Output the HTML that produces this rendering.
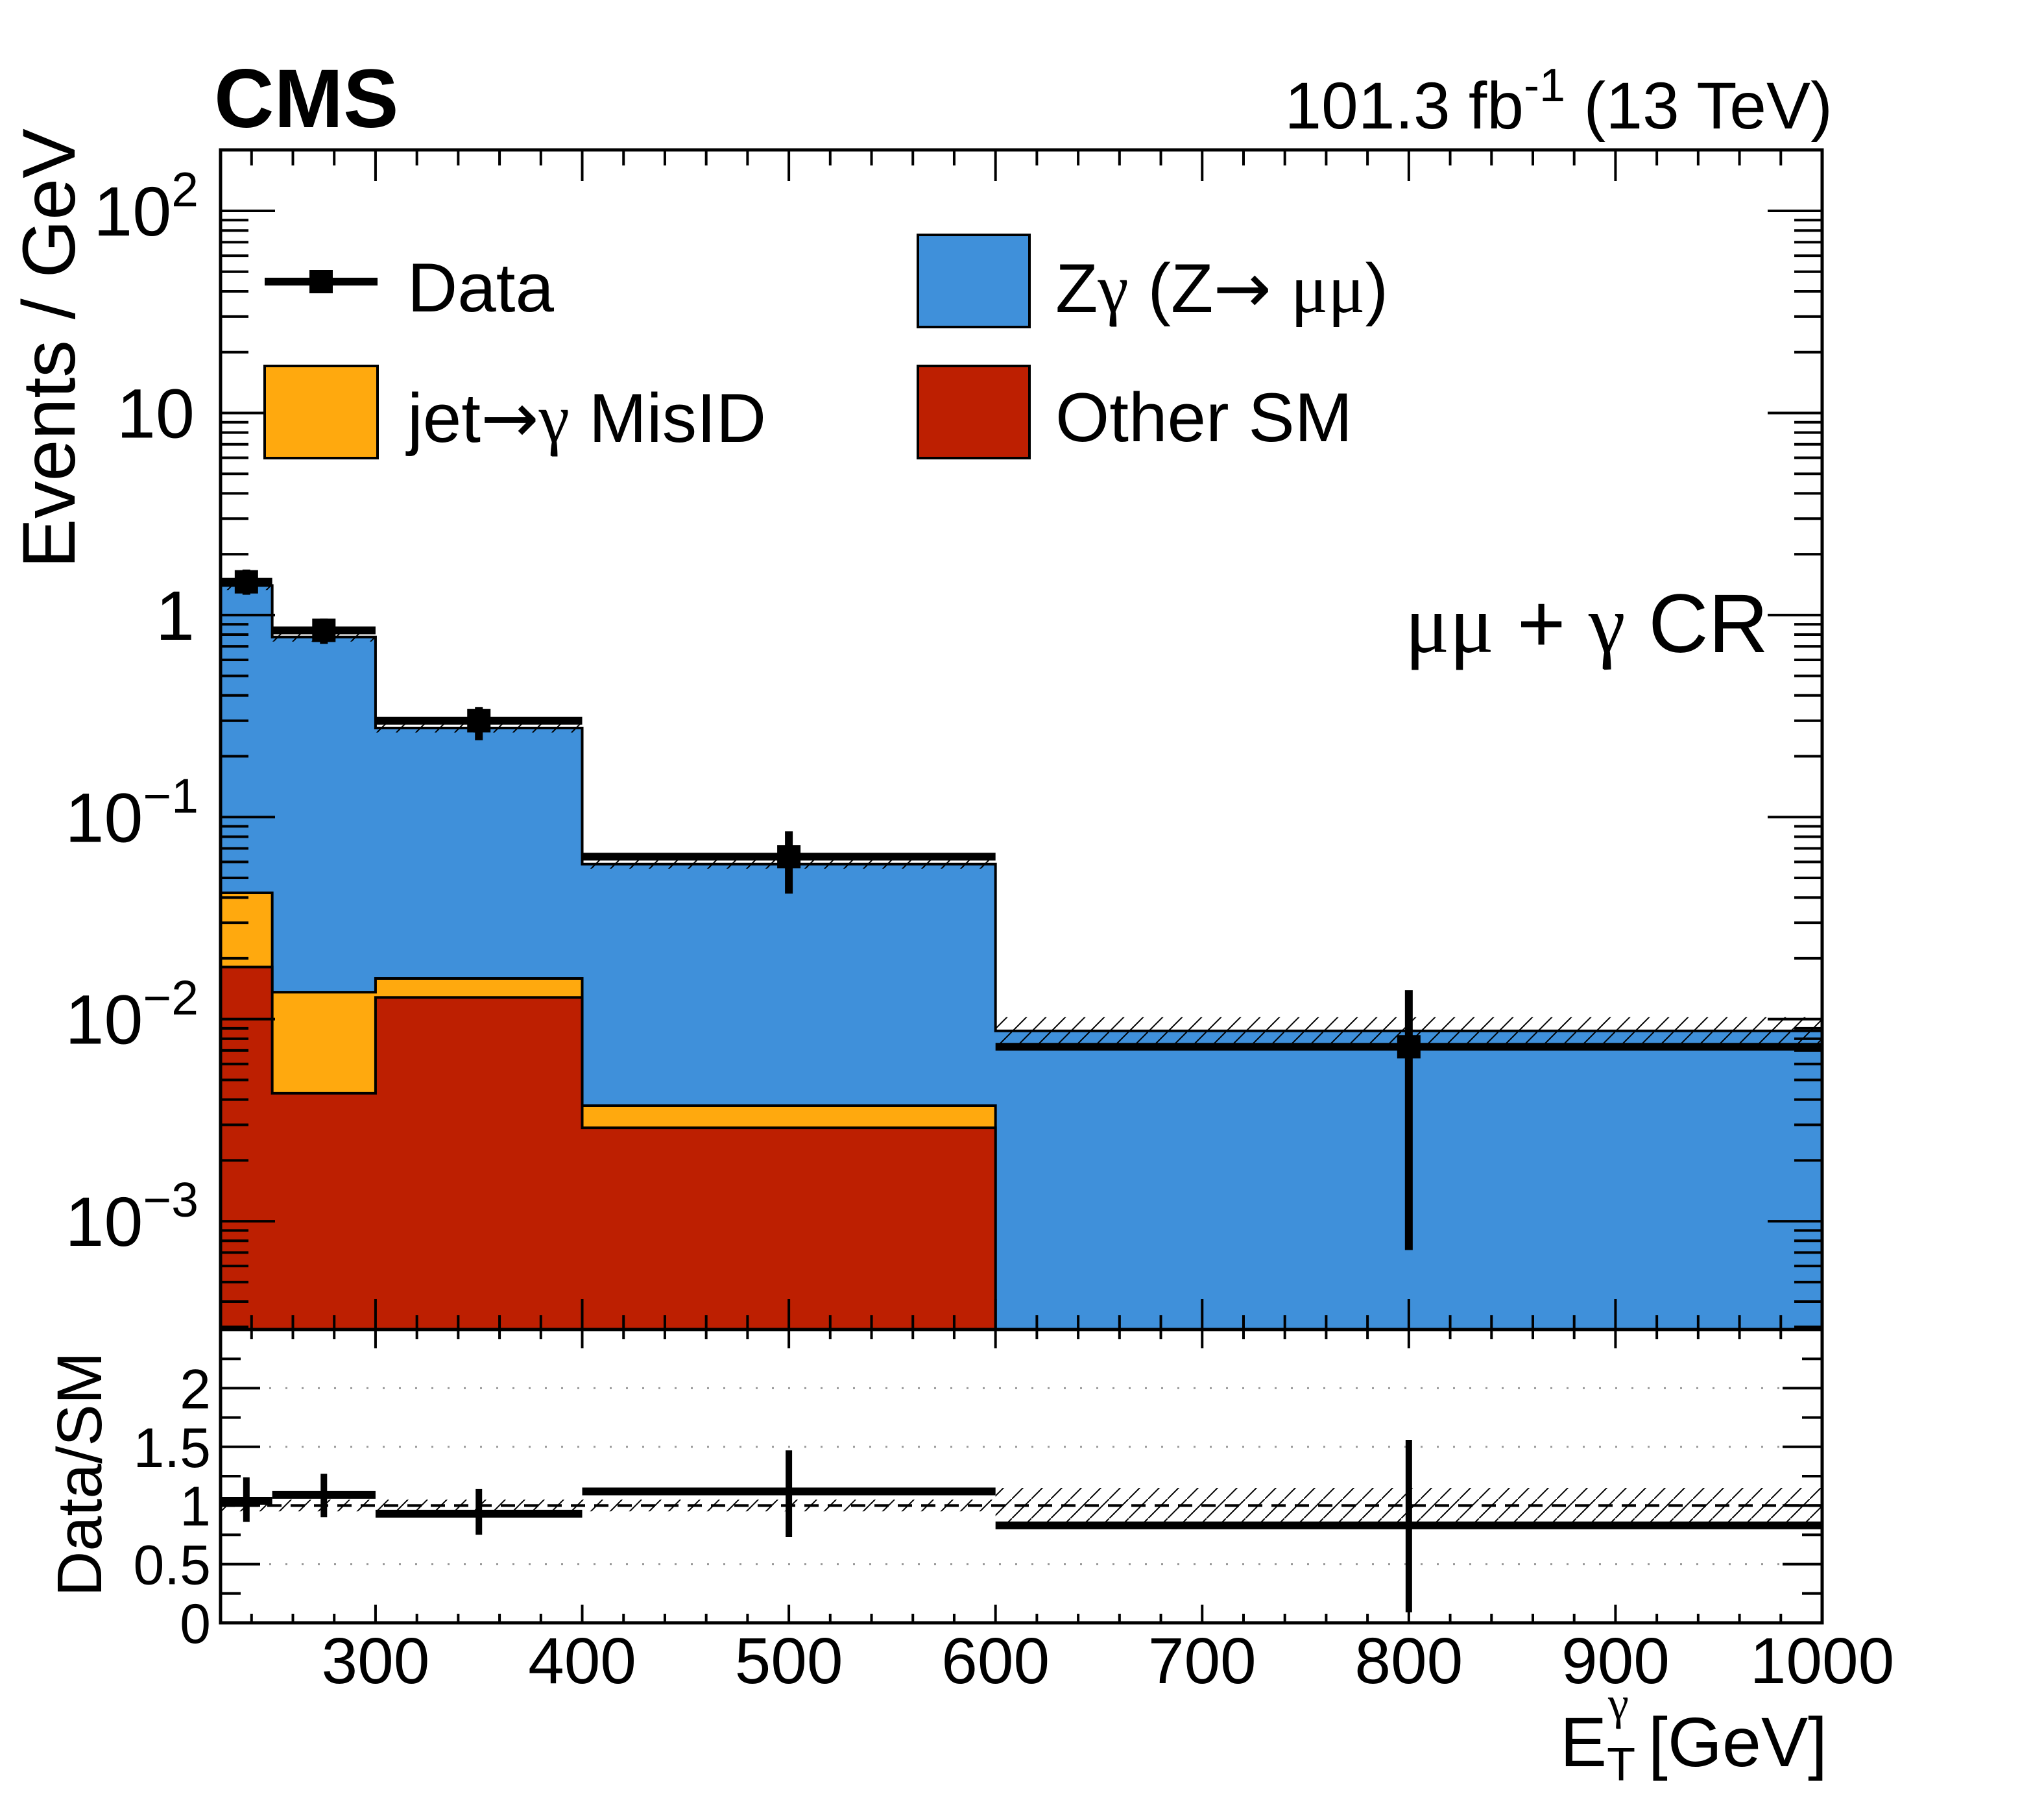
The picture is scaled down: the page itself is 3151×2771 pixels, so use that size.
<!DOCTYPE html>
<html><head><meta charset="utf-8">
<style>
html,body{margin:0;padding:0;background:#fff;}
svg{display:block;font-family:"Liberation Sans",sans-serif;}
.g{font-family:"Liberation Serif","DejaVu Serif",serif;}
.a{font-family:"DejaVu Sans",sans-serif;}
</style></head>
<body>
<svg id="chart" width="3151" height="2771" viewBox="0 0 3151 2771" xmlns="http://www.w3.org/2000/svg">
<defs>
<pattern id="hatch" patternUnits="userSpaceOnUse" width="30" height="30">
<line x1="0" y1="30" x2="30" y2="0" stroke="#000" stroke-width="2"/>
</pattern>
</defs>
<g id="main"></g>
<g id="ratio"></g>
<g id="axes"></g>
<text x="330" y="196" font-size="128" font-weight="bold">CMS</text>
<text x="2825" y="198" font-size="102" text-anchor="end">101.3 fb<tspan dy="-42" font-size="72">-1</tspan><tspan dy="42"> (13 TeV)</tspan></text>
<text x="2726" y="1005" font-size="128" text-anchor="end"><tspan class="g">μμ</tspan> + <tspan class="g">γ</tspan> CR</text>
<text transform="translate(115,537) rotate(-90)" font-size="115" text-anchor="middle">Events / GeV</text>
<text transform="translate(156,2272) rotate(-90)" font-size="97" text-anchor="middle">Data/SM</text>
<text x="2817" y="2722" font-size="108" text-anchor="end">E<tspan dy="22" font-size="72">T</tspan><tspan dx="-42" dy="-95" font-size="72" class="g">γ</tspan><tspan dy="73"> [GeV]</tspan></text>
<g>
<g>
<line x1="408" y1="434" x2="582" y2="434" stroke="#000" stroke-width="12"/>
<rect x="477" y="416" width="36" height="36" fill="#000"/>
<text x="628" y="480" font-size="107">Data</text>
</g>
<g>
<rect x="408" y="564" width="174" height="142" fill="#ffa90e" stroke="#000" stroke-width="4"/>
<text x="628" y="681" font-size="107">jet<tspan class="a">→</tspan><tspan class="g">γ</tspan> MisID</text>
</g>
<g>
<rect x="1415" y="362" width="172" height="142" fill="#3f90da" stroke="#000" stroke-width="4"/>
<text x="1627" y="481" font-size="107">Z<tspan class="g">γ</tspan> (Z<tspan class="a">→</tspan> <tspan class="g">μμ</tspan>)</text>
</g>
<g>
<rect x="1415" y="564" width="172" height="142" fill="#bd1f01" stroke="#000" stroke-width="4"/>
<text x="1627" y="680" font-size="107">Other SM</text>
</g>
</g>
</svg>
<script>
const binEdges = [225, 250, 300, 400, 600, 1000];
const zgTotal = [1.40, 0.778, 0.276, 0.0585, 0.00875];
const misidTop = [0.0422, 0.0136, 0.0159, 0.00373, 0];
const otherSM = [0.0181, 0.0043, 0.0128, 0.0029, 0];
const bkgUnc = [0.05, 0.05, 0.05, 0.05, 0.17];
const dataVal = [1.46, 0.84, 0.30, 0.0637, 0.0073];
const dataUp = [1.68, 0.96, 0.35, 0.085, 0.0139];
const dataDn = [1.26, 0.72, 0.24, 0.0418, 0.00072];
const ratioVal = [1.04, 1.09, 0.93, 1.12, 0.83];
const ratioUp = [1.24, 1.27, 1.14, 1.47, 1.56];
const ratioDn = [0.86, 0.90, 0.75, 0.73, 0.09];
const ratioUnc = [0.05, 0.05, 0.05, 0.05, 0.15];
const xTicks = [300, 400, 500, 600, 700, 800, 900, 1000];
const ratioTicks = [0, 0.5, 1, 1.5, 2];
const ratioTickLabels = ["0", "0.5", "1", "1.5", "2"];

const NS = "http://www.w3.org/2000/svg";
const L = 340, R = 2809, T = 231, MB = 2049, RB = 2501;
const xMin = 225, xMax = 1000, yLogMin = -3.536, yLogMax = 2.302;
function X(v){ return L + (v - xMin) / (xMax - xMin) * (R - L); }
function Y(v){ const lv = v > 0 ? Math.log10(v) : yLogMin - 1; const c = Math.max(yLogMin, Math.min(yLogMax, lv)); return MB - (c - yLogMin) / (yLogMax - yLogMin) * (MB - T); }
function YR(v){ return RB - v / 2.5 * (RB - MB); }
function mk(tag, attrs, parent){ const e = document.createElementNS(NS, tag); for (const k in attrs) e.setAttribute(k, attrs[k]); parent.appendChild(e); return e; }

const main = document.getElementById("main");
const ratio = document.getElementById("ratio");
const axes = document.getElementById("axes");

function stepPath(vals){
  let d = "M" + X(binEdges[0]) + "," + MB;
  for (let i = 0; i < vals.length; i++){
    d += " L" + X(binEdges[i]) + "," + Y(vals[i]) + " L" + X(binEdges[i+1]) + "," + Y(vals[i]);
  }
  d += " L" + X(binEdges[binEdges.length-1]) + "," + MB + " Z";
  return d;
}
const layers = [[zgTotal, "#3f90da", "stack-zgamma"], [misidTop, "#ffa90e", "stack-misid"], [otherSM, "#bd1f01", "stack-other-sm"]];
layers.forEach(function(l){
  const p = mk("path", {d: stepPath(l[0]), fill: l[1], stroke: "#000", "stroke-width": 4}, main);
  
  
});
for (let i = 0; i < zgTotal.length; i++){
  const y1 = Y(zgTotal[i] * (1 + bkgUnc[i])), y2 = Y(zgTotal[i] * (1 - bkgUnc[i]));
  const r = mk("rect", {x: X(binEdges[i]), y: y1, width: X(binEdges[i+1]) - X(binEdges[i]), height: y2 - y1, fill: "url(#hatch)"}, main);
  
  
}
for (let i = 0; i < dataVal.length; i++){
  const g = mk("g", {}, main);
  
  
  const cx = (X(binEdges[i]) + X(binEdges[i+1])) / 2, cy = Y(dataVal[i]);
  mk("line", {x1: X(binEdges[i]), x2: X(binEdges[i+1]), y1: cy, y2: cy, stroke: "#000", "stroke-width": 12}, g);
  mk("line", {x1: cx, x2: cx, y1: Y(dataUp[i]), y2: Y(dataDn[i]), stroke: "#000", "stroke-width": 12}, g);
  mk("rect", {x: cx - 18, y: cy - 18, width: 36, height: 36, fill: "#000"}, g);
}
[0.5, 1.5, 2].forEach(function(v){
  const l = mk("line", {x1: L, x2: R, y1: YR(v), y2: YR(v), stroke: "#999", "stroke-width": 3, "stroke-dasharray": "3 22"}, ratio);
  
  
});
for (let i = 0; i < ratioUnc.length; i++){
  const r = mk("rect", {x: X(binEdges[i]), y: YR(1 + ratioUnc[i]), width: X(binEdges[i+1]) - X(binEdges[i]), height: YR(1 - ratioUnc[i]) - YR(1 + ratioUnc[i]), fill: "url(#hatch)"}, ratio);
  
  
}
const dl = mk("line", {x1: L, x2: R, y1: YR(1), y2: YR(1), stroke: "#000", "stroke-width": 4, "stroke-dasharray": "22 14"}, ratio);


for (let i = 0; i < ratioVal.length; i++){
  const g = mk("g", {}, ratio);
  
  
  const cx = (X(binEdges[i]) + X(binEdges[i+1])) / 2, cy = YR(ratioVal[i]);
  mk("line", {x1: X(binEdges[i]), x2: X(binEdges[i+1]), y1: cy, y2: cy, stroke: "#000", "stroke-width": 12}, g);
  mk("line", {x1: cx, x2: cx, y1: YR(ratioUp[i]), y2: YR(ratioDn[i]), stroke: "#000", "stroke-width": 10}, g);
}
[[T, MB], [MB, RB]].forEach(function(f, k){
  const r = mk("rect", {x: L, y: f[0], width: R - L, height: f[1] - f[0], fill: "none", stroke: "#000", "stroke-width": 5}, axes);
  
  
});
for (let v = 240; v <= 1000; v += 20){
  const major = v % 100 === 0, x = X(v);
  mk("line", {x1: x, x2: x, y1: T, y2: T + (major ? 48 : 24), stroke: "#000", "stroke-width": 4}, axes);
  mk("line", {x1: x, x2: x, y1: MB, y2: MB - (major ? 47 : 22), stroke: "#000", "stroke-width": 4}, axes);
  mk("line", {x1: x, x2: x, y1: MB, y2: MB + (major ? 29 : 15), stroke: "#000", "stroke-width": 4}, axes);
  mk("line", {x1: x, x2: x, y1: RB, y2: RB - (major ? 28 : 14), stroke: "#000", "stroke-width": 4}, axes);
}
xTicks.forEach(function(v){
  const t = mk("text", {x: X(v), y: 2594, "font-size": 100, "text-anchor": "middle"}, axes);
  t.textContent = String(v);
  
  
});
for (let e = -4; e <= 2; e++){
  for (let m = 1; m <= 9; m++){
    const v = m * Math.pow(10, e), lv = Math.log10(v);
    if (lv < yLogMin || lv > yLogMax) continue;
    const y = Y(v), len = m === 1 ? 84 : 43;
    mk("line", {x1: L, x2: L + len, y1: y, y2: y, stroke: "#000", "stroke-width": 4}, axes);
    mk("line", {x1: R, x2: R - len, y1: y, y2: y, stroke: "#000", "stroke-width": 4}, axes);
  }
}
const logLabels = [[2, "10", "2"], [1, "10", ""], [0, "1", ""], [-1, "10", "−1"], [-2, "10", "−2"], [-3, "10", "−3"]];
logLabels.forEach(function(l){
  const y = Y(Math.pow(10, l[0])) + 38;
  const t = mk("text", {x: 306, y: y, "font-size": 108, "text-anchor": "end"}, axes);
  
  
  if (l[2]){
    t.textContent = l[1];
    const s = document.createElementNS(NS, "tspan");
    s.setAttribute("dy", "-45"); s.setAttribute("font-size", "75");
    s.textContent = l[2];
    t.appendChild(s);
  } else {
    t.setAttribute("x", 300);
    t.textContent = l[1];
  }
});
for (let v = 0.25; v < 2.5; v += 0.25){
  const major = Math.abs(v * 2 - Math.round(v * 2)) < 1e-6, y = YR(v), len = major ? 61 : 31;
  mk("line", {x1: L, x2: L + len, y1: y, y2: y, stroke: "#000", "stroke-width": 4}, axes);
  mk("line", {x1: R, x2: R - len, y1: y, y2: y, stroke: "#000", "stroke-width": 4}, axes);
}
ratioTicks.forEach(function(v, i){
  const t = mk("text", {x: 325, y: YR(v) + 31, "font-size": 86, "text-anchor": "end"}, axes);
  t.textContent = ratioTickLabels[i];
  
  
});
</script>
</body></html>
